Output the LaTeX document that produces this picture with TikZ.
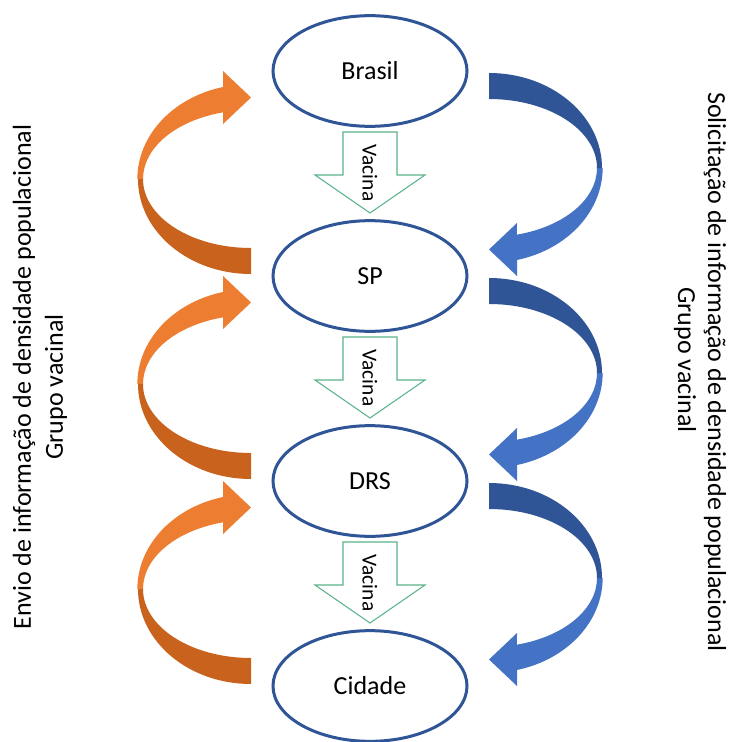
\documentclass[tikz,border=0pt]{standalone}
\usepackage{fontspec}
\setmainfont{Carlito}
\usetikzlibrary{shapes.geometric}
\definecolor{orlight}{HTML}{ED7D31}
\definecolor{ordark}{HTML}{C8621C}
\definecolor{bllight}{HTML}{4472C4}
\definecolor{bldark}{HTML}{2F5597}
\definecolor{ellblue}{HTML}{2F5597}
\definecolor{vacgreen}{HTML}{5DB38A}
\newcommand{\ribbonarrow}[2]{%
  \fill[#1] (-28,16) arc[start angle=256, end angle=180, x radius=113, y radius=95]
    -- (-108,108) arc[start angle=180, end angle=255, x radius=108, y radius=69]
    -- (-28,53) -- (0,26.5) -- (-28,0) -- cycle;
  \fill[#2] (-113,108) arc[start angle=180, end angle=90, x radius=113, y radius=95]
    -- (0,177) arc[start angle=90, end angle=180, x radius=108, y radius=69] -- cycle;
}
\begin{document}
\begin{tikzpicture}[x=0.75pt,y=-0.75pt,
  lvl/.style={ellipse, draw=ellblue, line width=2.25pt, fill=white, inner sep=0pt,
    minimum width=145.5pt, minimum height=83pt, font=\fontsize{19.5}{23}\selectfont},
  vacarrow/.style={draw=vacgreen, line width=0.8pt, fill=white, line join=miter},
  vactext/.style={font=\fontsize{16}{19}\selectfont, rotate=-90, inner sep=0pt},
  side/.style={font=\fontsize{19.5}{23}\selectfont, inner sep=0pt}]
\fill[white] (0,0) rectangle (730,742);
\useasboundingbox (0,0) rectangle (730,742);

% curved arrows
\foreach \k in {0,1,2} {
  \begin{scope}[shift={(251,71+205*\k)}]
    \ribbonarrow{orlight}{ordark}
  \end{scope}
  \begin{scope}[shift={(489,276+205*\k)}, rotate=180]
    \ribbonarrow{bllight}{bldark}
  \end{scope}
}

% level nodes
\node[lvl] (brasil) at (370,71) {Brasil};
\node[lvl] (sp) at (370,276) {SP};
\node[lvl] (drs) at (370,481) {DRS};
\node[lvl] (cidade) at (370,686) {Cidade};

% vacina block arrows
\foreach \c/\n in {71/a,276/b,481/c} {
  \begin{scope}[shift={(370,\c)}]
    \draw[vacarrow] (-27,61) -- (27,61) -- (27,104) -- (55,104) -- (0,142)
      -- (-55,104) -- (-27,104) -- cycle;
    \node[vactext] (vac\n) at (0,102) {Vacina};
  \end{scope}
}

% side texts
\node[side, rotate=90] (envio) at (24,377) {Envio de informação de densidade populacional};
\node[side, rotate=90] (grupoL) at (56,387) {Grupo vacinal};
\node[side, rotate=-90] (solic) at (715,372) {Solicitação de informação de densidade populacional};
\node[side, rotate=-90] (grupoR) at (685,360) {Grupo vacinal};
\end{tikzpicture}
\end{document}
